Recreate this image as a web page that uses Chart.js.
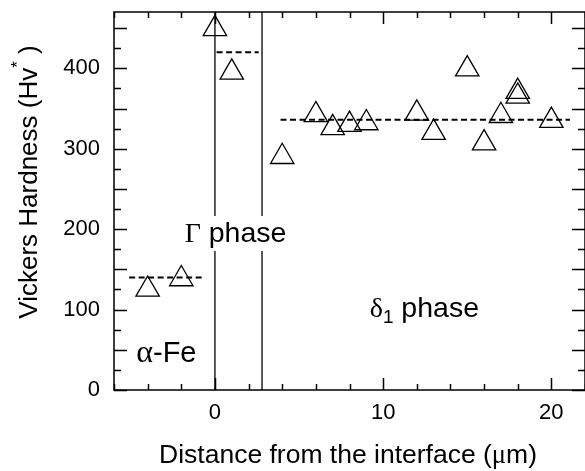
<!DOCTYPE html>
<html>
<head>
<meta charset="utf-8">
<script src="https://cdn.jsdelivr.net/npm/chart.js@4.4.0/dist/chart.umd.min.js"></script>
<style>
  html, body { margin: 0; padding: 0; background: #fff; overflow: hidden; }
  canvas { display: block; }
</style>
</head>
<body>
<canvas id="grafico" width="585" height="471"></canvas>
<script>
// distancia desde la interfaz (um) y dureza Vickers medida
const distancia = [-4, -2, 0, 1, 4, 6, 7, 8, 9, 12, 13, 15, 16, 17, 18, 18, 20];
const dureza = [125, 138, 449, 395, 290, 342, 326, 330, 332, 344, 320, 399, 307, 341, 371, 365, 335];

// promedio de cada fase (alpha-Fe, Gamma, delta1) y su tramo
const promedio = [140, 420, 336];
const promedioDesde = [-5.1, 0.1, 3.9];
const promedioHasta = [-0.7, 2.6, 21.1];

// limites entre fases
const limites = [0, 2.8];

const ticksX = [0, 10, 20];
const ticksY = [0, 100, 200, 300, 400];

const SANS = '"Liberation Sans", Arial, sans-serif';
const SERIF = '"Liberation Serif", "Times New Roman", serif';

const datasets = [];
limites.forEach(x => {
  datasets.push({
    data: [{ x: x, y: 0 }, { x: x, y: 470 }],
    showLine: true, borderColor: '#000', borderWidth: 1.3, pointRadius: 0
  });
});
promedio.forEach((p, i) => {
  datasets.push({
    data: [{ x: promedioDesde[i], y: p }, { x: promedioHasta[i], y: p }],
    showLine: true, borderColor: '#000', borderWidth: 2, borderDash: [6, 3.5], pointRadius: 0
  });
});
datasets.push({
  data: distancia.map((d, i) => ({ x: d, y: dureza[i] })),
  pointStyle: 'triangle', pointRadius: 13.5, borderWidth: 1.3,
  borderColor: '#000', backgroundColor: 'rgba(0,0,0,0)', clip: false
});

// dibuja un texto compuesto por partes con distinta fuente
function texto(ctx, partes, x, y, rot, centrado) {
  ctx.save();
  ctx.translate(x, y);
  ctx.rotate(rot);
  ctx.fillStyle = '#000';
  ctx.textBaseline = 'alphabetic';
  ctx.textAlign = 'left';
  let total = 0;
  partes.forEach(p => { ctx.font = p.f; total += ctx.measureText(p.t).width; });
  let cx = centrado ? -total / 2 : 0;
  partes.forEach(p => {
    ctx.font = p.f;
    ctx.fillText(p.t, cx, p.dy || 0);
    cx += ctx.measureText(p.t).width;
  });
  ctx.restore();
  return total;
}

const sinPadding = s => { s.paddingTop = 0; s.paddingBottom = 0; s.paddingLeft = 0; s.paddingRight = 0; };

const marco = {
  id: 'marco',
  afterDraw(chart) {
    const { ctx, chartArea: { left, right, top, bottom }, scales: { x, y } } = chart;
    ctx.save();
    ctx.strokeStyle = '#000';
    ctx.lineWidth = 1.5;
    ctx.strokeRect(left, top, right - left, bottom - top);
    ctx.beginPath();
    for (let v = -6; v <= 22; v += 2) {
      const px = Math.round(x.getPixelForValue(v)) + 0.5;
      const l = v % 10 === 0 ? 12 : 6;
      ctx.moveTo(px, bottom); ctx.lineTo(px, bottom - l);
      ctx.moveTo(px, top); ctx.lineTo(px, top + l);
    }
    for (let v = 0; v <= 470; v += 25) {
      const py = Math.round(y.getPixelForValue(v)) + 0.5;
      const l = v % 50 === 0 ? 13 : 7;
      ctx.moveTo(left, py); ctx.lineTo(left + l, py);
      ctx.moveTo(right, py); ctx.lineTo(right - l, py);
    }
    ctx.stroke();

    // etiquetas de fase
    const gx = x.getPixelForValue(-1.8), gy = y.getPixelForValue(184);
    ctx.fillStyle = '#fff';
    ctx.fillRect(gx - 2, gy - 26, 108, 35);
    texto(ctx, [{ t: 'Γ', f: '28px ' + SERIF }, { t: ' phase', f: '28.5px ' + SANS }], gx, gy, 0, false);
    texto(ctx, [{ t: 'α', f: '32px ' + SERIF }, { t: '-Fe', f: '29px ' + SANS }],
      x.getPixelForValue(-4.68), y.getPixelForValue(35), 0, false);
    texto(ctx, [{ t: 'δ', f: '28px ' + SERIF }, { t: '1', f: '19px ' + SANS, dy: 6 }, { t: ' phase', f: '28.5px ' + SANS }],
      x.getPixelForValue(9.2), y.getPixelForValue(90.5), 0, false);

    // titulos de los ejes
    texto(ctx, [{ t: 'Distance from the interface (', f: '26.5px ' + SANS }, { t: 'μ', f: '26.5px ' + SERIF }, { t: 'm)', f: '26.5px ' + SANS }],
      348, 463, 0, true);
    texto(ctx, [{ t: 'Vickers Hardness (Hv', f: '26px ' + SANS }, { t: '*', f: '17px ' + SANS, dy: -14 }, { t: ' )', f: '26px ' + SANS }],
      37, 182, -Math.PI / 2, true);
    ctx.restore();
  }
};

const ctx = document.getElementById('grafico');
new Chart(ctx, {
  type: 'scatter',
  data: { datasets: datasets },
  options: {
    responsive: false,
    animation: false,
    events: [],
    layout: { autoPadding: false, padding: { top: 12, right: 0, left: 0, bottom: 0 } },
    plugins: { legend: { display: false }, tooltip: { enabled: false } },
    scales: {
      x: {
        type: 'linear', min: -6, max: 22,
        grid: { display: false, drawTicks: false },
        border: { display: false },
        afterBuildTicks: s => { s.ticks = ticksX.map(v => ({ value: v })); },
        afterFit: s => { s.height = 81; sinPadding(s); },
        ticks: { color: '#000', font: { family: SANS, size: 22 }, padding: 10, maxRotation: 0 }
      },
      y: {
        type: 'linear', min: 0, max: 470,
        grid: { display: false, drawTicks: false },
        border: { display: false },
        afterBuildTicks: s => { s.ticks = ticksY.map(v => ({ value: v })); },
        afterFit: s => { s.width = 114; sinPadding(s); },
        ticks: { color: '#000', font: { family: SANS, size: 22 }, padding: 14 }
      }
    }
  },
  plugins: [marco]
});
</script>
</body>
</html>
